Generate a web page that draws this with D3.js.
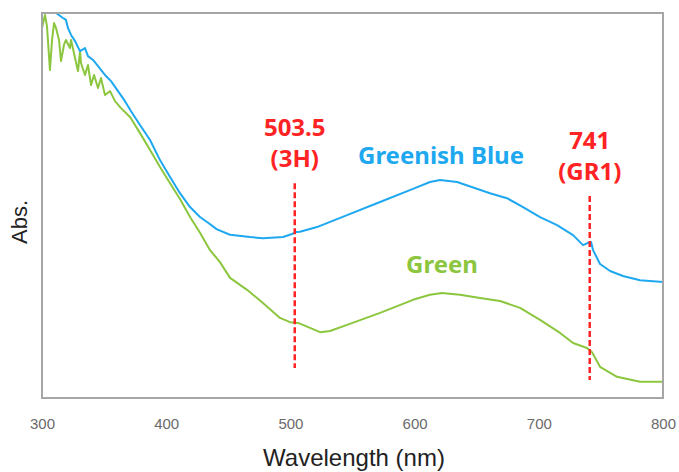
<!DOCTYPE html>
<html>
<head>
<meta charset="utf-8">
<script src="https://cdn.jsdelivr.net/npm/d3@7"></script>
<style>
  html, body { margin: 0; padding: 0; background: #fff; }
  svg { display: block; }
</style>
</head>
<body>
<svg id="chart" width="679" height="472"></svg>
<script>
// ======== DATA ========
const xTicks = [300, 400, 500, 600, 700, 800];

// Greenish Blue spectrum (wavelength nm, absorbance a.u.)
const blueNm = [300, 305, 308, 311.3, 316.9, 319.3, 320.9, 323.4, 326.6, 330.6, 334.6, 337.0, 341.1, 345.1, 350.7,
  355.6, 361.2, 366.8, 371.7, 378.9, 387.0, 395.0, 403.1, 411.1, 419.2, 427.2, 432.9, 440.9, 451.4, 467.5,
  477.9, 494.1, 501.3, 504.5, 507.7, 521.4, 545.6, 572.2, 598.7, 612.4, 620.5, 634.2, 660.7, 674.4, 687.3,
  701.0, 714.7, 727.6, 735.6, 739.6, 742.1, 743.7, 749.3, 757.4, 767.8, 781.5, 800];
const blueAbs = [1.06, 1.04, 1.02, 1.000, 0.987, 0.982, 0.961, 0.943, 0.927, 0.901, 0.909, 0.888, 0.878, 0.862, 0.839,
  0.823, 0.797, 0.771, 0.745, 0.709, 0.670, 0.618, 0.574, 0.532, 0.496, 0.470, 0.457, 0.438, 0.424, 0.418,
  0.415, 0.418, 0.426, 0.431, 0.432, 0.444, 0.475, 0.509, 0.543, 0.561, 0.566, 0.561, 0.532, 0.519, 0.496,
  0.470, 0.449, 0.423, 0.397, 0.403, 0.405, 0.384, 0.348, 0.330, 0.317, 0.306, 0.301];

// Green spectrum
const greenNm = [300, 302.4, 304.0, 306.4, 308.1, 309.7, 311.3, 313.7, 315.3, 317.7, 319.3, 322.5, 323.4, 326.6, 329.0,
  330.6, 331.4, 334.6, 337.0, 339.5, 341.9, 345.1, 347.5, 350.7, 354.8, 358.8, 363.6, 369.2, 370.9, 378.9,
  387.0, 395.0, 403.1, 411.1, 419.2, 427.2, 435.3, 443.3, 451.4, 465.1, 477.9, 491.6, 499.7, 506.1, 515.8,
  523.8, 531.9, 545.6, 572.2, 598.7, 612.4, 622.1, 636.6, 652.7, 668.8, 684.9, 701.0, 717.1, 727.6, 738.8,
  742.9, 749.3, 763.0, 781.5, 800];
const greenAbs = [0.961, 0.995, 0.966, 0.852, 0.930, 0.974, 0.961, 0.930, 0.875, 0.917, 0.930, 0.909, 0.930, 0.883, 0.849,
  0.901, 0.870, 0.839, 0.865, 0.813, 0.839, 0.805, 0.831, 0.787, 0.797, 0.771, 0.753, 0.735, 0.730, 0.688,
  0.644, 0.600, 0.558, 0.517, 0.470, 0.429, 0.384, 0.353, 0.312, 0.281, 0.247, 0.208, 0.197, 0.195, 0.182,
  0.171, 0.174, 0.190, 0.221, 0.255, 0.268, 0.273, 0.268, 0.260, 0.252, 0.234, 0.203, 0.169, 0.143, 0.130,
  0.119, 0.081, 0.055, 0.042, 0.042];

// Defect markers: wavelength, dashed line span (abs), label lines
const markerNm = [503.5, 741];
const markerTop = [0.558, 0.525];
const markerBottom = [0.078, 0.047];
const markerLabels = [["503.5", "(3H)"], ["741", "(GR1)"]];

// ======== LAYOUT ========
const margin = { top: 13, right: 16, bottom: 74, left: 42 };
const W = 679, H = 472;
const innerW = W - margin.left - margin.right;
const innerH = H - margin.top - margin.bottom;

const BLUE = '#1ea8f0', GREEN = '#8cc63f', RED = '#ff2323';

const svg = d3.select('#chart');
const x = d3.scaleLinear().domain([300, 800]).range([margin.left, margin.left + innerW]);
const y = d3.scaleLinear().domain([0, 1]).range([margin.top + innerH, margin.top]);

svg.append('defs').append('clipPath').attr('id', 'plotclip')
  .append('rect')
  .attr('x', margin.left).attr('y', margin.top)
  .attr('width', innerW).attr('height', innerH);

const line = d3.line().x(d => x(d[0])).y(d => y(d[1]));

const plot = svg.append('g').attr('clip-path', 'url(#plotclip)');

plot.append('path')
  .datum(d3.zip(greenNm, greenAbs))
  .attr('fill', 'none').attr('stroke', GREEN).attr('stroke-width', 2)
  .attr('stroke-linejoin', 'round')
  .attr('d', line);

plot.append('path')
  .datum(d3.zip(blueNm, blueAbs))
  .attr('fill', 'none').attr('stroke', BLUE).attr('stroke-width', 2)
  .attr('stroke-linejoin', 'round')
  .attr('d', line);

// dashed marker lines
plot.selectAll('line.marker')
  .data(markerNm)
  .enter().append('line')
  .attr('class', 'marker')
  .attr('x1', d => x(d)).attr('x2', d => x(d))
  .attr('y1', (d, i) => y(markerTop[i]))
  .attr('y2', (d, i) => y(markerBottom[i]))
  .attr('stroke', RED).attr('stroke-width', 2.5)
  .attr('stroke-dasharray', '6,3');

// frame
svg.append('rect')
  .attr('x', margin.left).attr('y', margin.top)
  .attr('width', innerW).attr('height', innerH)
  .attr('fill', 'none').attr('stroke', '#a6a6a6').attr('stroke-width', 2);

// x axis tick labels (no tick marks)
const xAxis = d3.axisBottom(x).tickValues(xTicks).tickSize(0).tickPadding(0);
const gx = svg.append('g')
  .attr('transform', `translate(0,${margin.top + innerH})`)
  .call(xAxis);
gx.select('.domain').remove();
gx.selectAll('text')
  .attr('dy', null)
  .attr('y', 31)
  .attr('fill', '#6a6a6a')
  .attr('font-family', 'Liberation Sans, Arial, sans-serif')
  .attr('font-size', 15);

// axis titles
svg.append('text')
  .attr('x', 354).attr('y', 466)
  .attr('text-anchor', 'middle')
  .attr('font-family', 'Liberation Sans, Arial, sans-serif')
  .attr('font-size', 24).attr('fill', '#222')
  .text('Wavelength (nm)');

svg.append('text')
  .attr('transform', 'translate(27,222) rotate(-90)')
  .attr('text-anchor', 'middle')
  .attr('font-family', 'Liberation Sans, Arial, sans-serif')
  .attr('font-size', 22).attr('fill', '#222')
  .text('Abs.');

// marker labels
const labelFont = 'Noto Sans, DejaVu Sans, sans-serif';
const labelBase = [[136, 167], [149, 180]];
markerLabels.forEach((lines, i) => {
  lines.forEach((t, j) => {
    svg.append('text')
      .attr('x', x(markerNm[i])).attr('y', labelBase[i][j])
      .attr('text-anchor', 'middle')
      .attr('font-family', labelFont).attr('font-weight', 700)
      .attr('font-size', 24).attr('fill', RED)
      .text(t);
  });
});

// series labels
svg.append('text')
  .attr('x', 441).attr('y', 164)
  .attr('text-anchor', 'middle')
  .attr('font-family', labelFont).attr('font-weight', 700)
  .attr('font-size', 24).attr('fill', BLUE)
  .text('Greenish Blue');

svg.append('text')
  .attr('x', 442).attr('y', 273)
  .attr('text-anchor', 'middle')
  .attr('font-family', labelFont).attr('font-weight', 700)
  .attr('font-size', 24).attr('fill', GREEN)
  .text('Green');
</script>
</body>
</html>
